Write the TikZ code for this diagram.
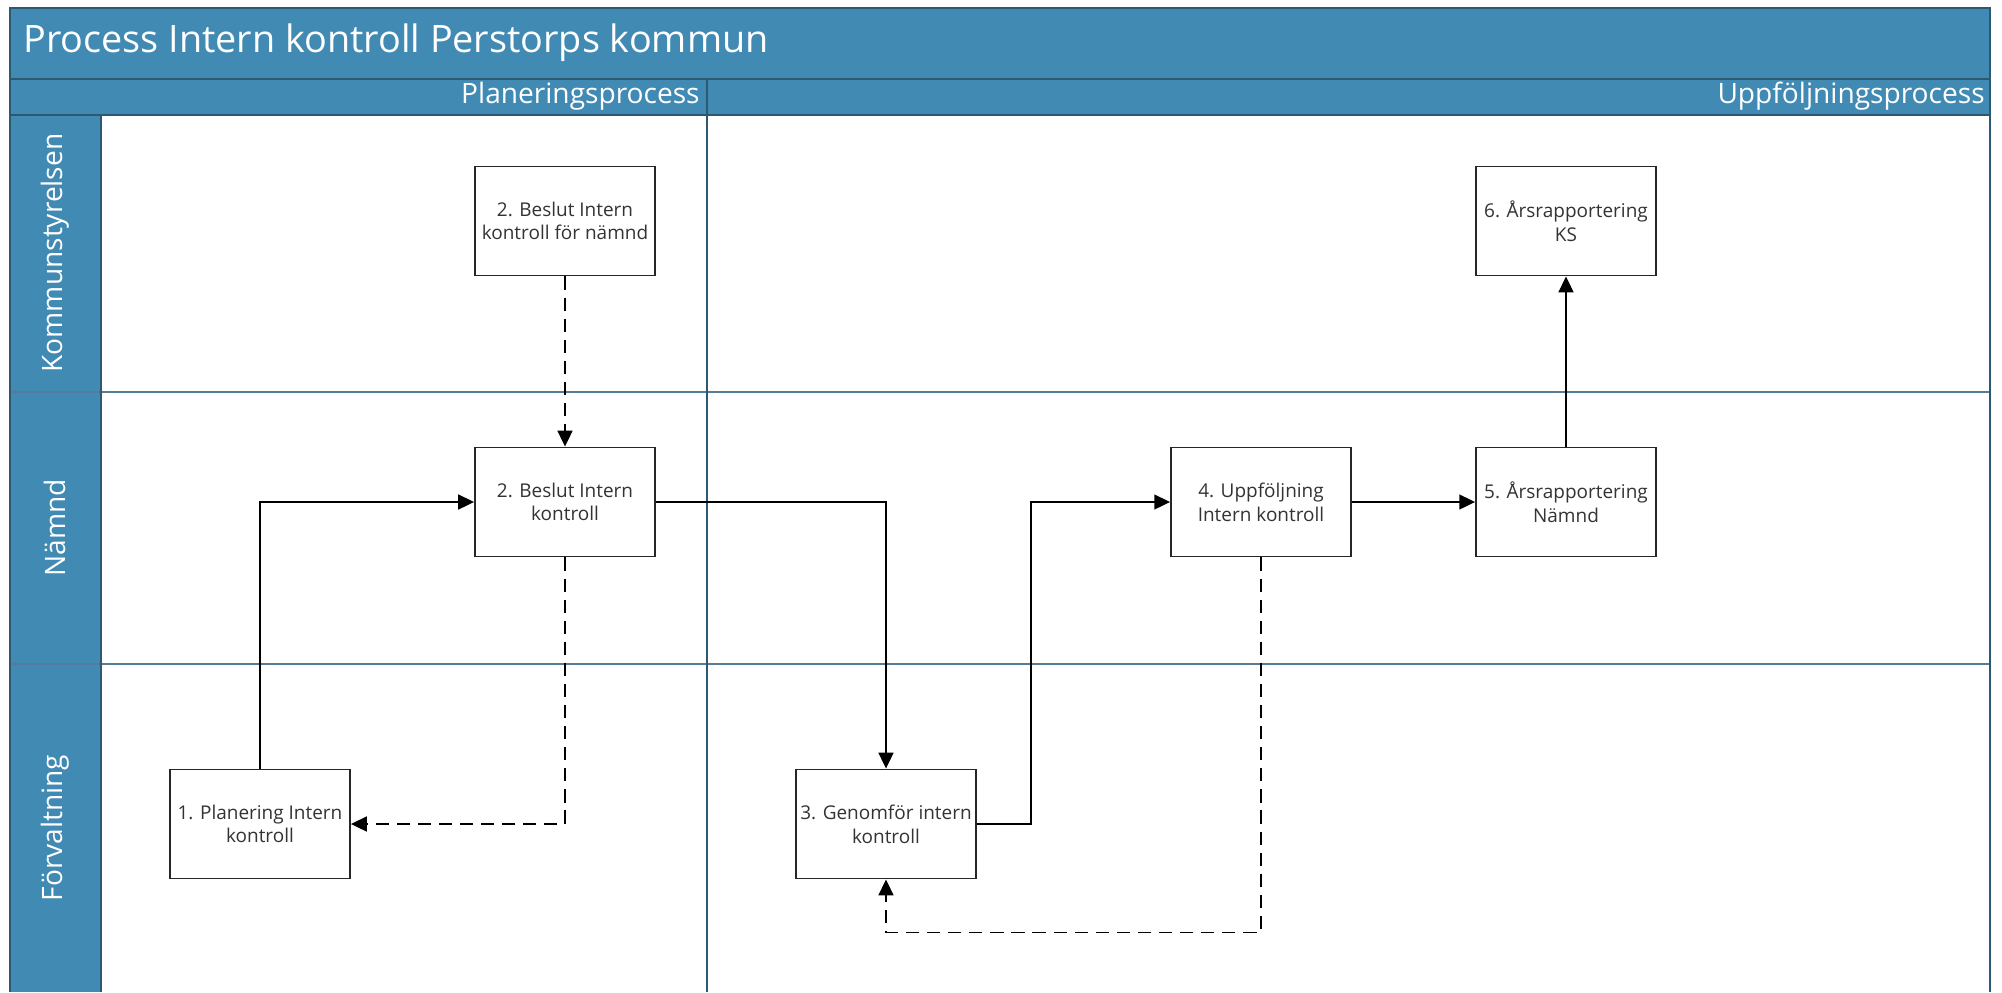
\documentclass[tikz,border=0pt]{standalone}
\usepackage{fontspec}
\setmainfont{Open Sans}
\usetikzlibrary{arrows.meta,positioning}

\definecolor{lanefill}{RGB}{65,138,180}
\definecolor{laneline}{RGB}{44,88,114}
\definecolor{gridline}{RGB}{84,124,152}

\tikzset{
    stepbox/.style={draw=black!85, line width=1.1pt, fill=white, minimum width=3.6cm, minimum height=2.18cm,
        align=center, inner sep=2pt, text=black!80, font=\fontsize{10.8}{13.5}\selectfont},
    flow/.style={draw=black, line width=0.9pt, -{Triangle[length=9pt,width=8.5pt]}},
    back/.style={flow, dash pattern=on 7.5pt off 4.5pt},
    headtext/.style={text=white, inner sep=0pt},
}

\begin{document}
\begin{tikzpicture}[x=0.02cm, y=-0.02cm]
        \useasboundingbox (0,0) rectangle (2002,992);

        %%%%%%%%% Ramar %%%%%%%%%%
        \fill[lanefill] (10,8) rectangle (1990,115);
        \fill[lanefill] (10,115) rectangle (101,992);
        \foreach \y in {392,664}
            \draw[gridline, line width=0.8pt] (10,\y) -- (1990,\y);
        \draw[laneline, line width=1pt] (10,79) -- (1990,79);
        \draw[laneline, line width=1pt] (10,115) -- (1990,115);
        \draw[laneline, line width=1pt] (101,115) -- (101,992);
        \draw[laneline, line width=1pt] (707,79) -- (707,992);
        \draw[laneline, line width=1.2pt] (10,992) -- (10,8) -- (1990,8) -- (1990,992);

        %%%%%%%%% Rubriker %%%%%%%%%
        \node[headtext, anchor=west, font=\fontsize{21.5}{25}\selectfont] (title) at (23,43) {Process Intern kontroll Perstorps kommun};
        \node[headtext, anchor=east, font=\fontsize{16}{19}\selectfont] (plan) at (700,96) {Planeringsprocess};
        \node[headtext, anchor=east, font=\fontsize{16}{19}\selectfont] (uppf) at (1985,96) {Uppföljningsprocess};

        %%%%%%%%% Banor %%%%%%%%%
        \node[headtext, rotate=90, font=\fontsize{16}{19}\selectfont] (ks) at (55,253) {Kommunstyrelsen};
        \node[headtext, rotate=90, font=\fontsize{16}{19}\selectfont] (namnd) at (55,528) {Nämnd};
        \node[headtext, rotate=90, font=\fontsize{16}{19}\selectfont] (forv) at (55,828) {Förvaltning};

        %%%%%%%%% Steg %%%%%%%%%%
        \node[stepbox] (b2ks) at (565,221) {2. Beslut Intern\\kontroll för nämnd};
        \node[stepbox] (b2n) at (565,502) {2. Beslut Intern\\kontroll};
        \node[stepbox] (b1) at (260,824) {1. Planering Intern\\kontroll};
        \node[stepbox] (b3) at (886,824) {3. Genomför intern\\kontroll};
        \node[stepbox] (b4) at (1261,502) {4. Uppföljning\\Intern kontroll};
        \node[stepbox] (b5) at (1566,502) {5. Årsrapportering\\Nämnd};
        \node[stepbox] (b6) at (1566,221) {6. Årsrapportering\\KS};

        %%%%%%%%% Flöde %%%%%%%%%
        \draw[flow] (b1.north) |- (b2n.west);
        \draw[flow] (b2n.east) -| (b3.north);
        \draw[flow] (b3.east) -- ++(54,0) |- (b4.west);
        \draw[flow] (b4) -- (b5);
        \draw[flow] (b5) -- (b6);

        %%%%%%%% Återkoppling %%%%%%%%
        \draw[back] (b2ks) -- (b2n);
        \draw[back] (b2n.south) |- (b1.east);
        \draw[back] (b4.south) -- ++(0,375) -| (b3.south);
    \end{tikzpicture}
\end{document}
